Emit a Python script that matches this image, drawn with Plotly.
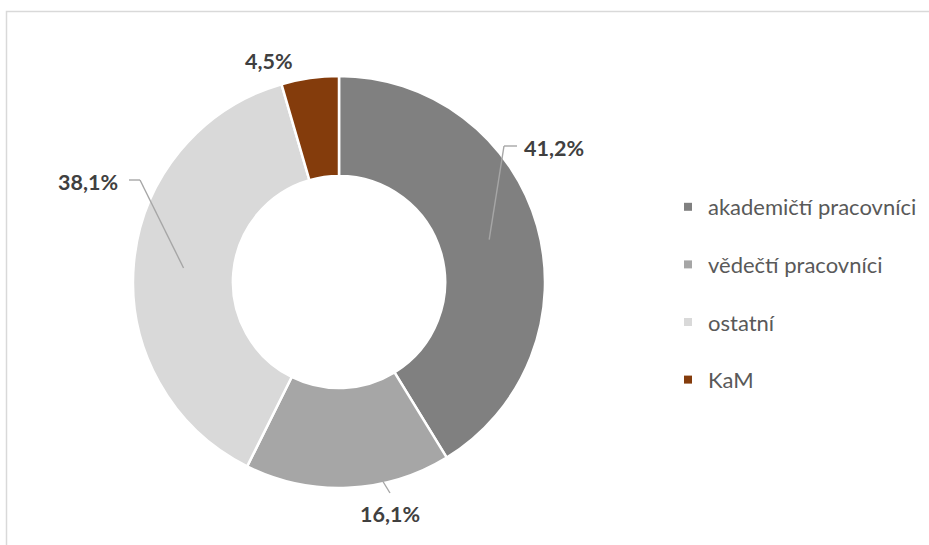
import math
import plotly.graph_objects as go

# ---- data ----
categories = ["akademičtí pracovníci", "vědečtí pracovníci", "ostatní", "KaM"]
values = [41.2, 16.1, 38.1, 4.5]
value_labels = ["41,2%", "16,1%", "38,1%", "4,5%"]
colors = ["#808080", "#A6A6A6", "#D9D9D9", "#843C0C"]

# ---- layout constants (pixels) ----
W, H = 929, 545
CX, CY, R_OUT = 339, 282, 206
HOLE = 0.515
R_MID = R_OUT * (1 + HOLE) / 2

# label centres and leader-line elbows/ends (pixel positions, style only)
label_pos = [(554, 148), (390, 514), (88, 182), (269, 61)]
leader_style = [
    {"from": "mid", "pts": [(504, 146), (517, 146)]},
    {"from": "toward_label", "pts": [(390, 493)]},
    {"from": "mid", "pts": [(140, 180), (129, 180)]},
    None,
]


def px(x, y):
    return x / W, 1 - y / H


fig = go.Figure()
fig.add_trace(go.Pie(
    labels=categories, values=values, sort=False, direction="clockwise",
    rotation=0, hole=HOLE, textinfo="none", hoverinfo="label+percent",
    marker=dict(colors=colors, line=dict(color="white", width=2.5)),
    domain=dict(x=[(CX - R_OUT) / W, (CX + R_OUT) / W],
                y=[1 - (CY + R_OUT) / H, 1 - (CY - R_OUT) / H]),
    showlegend=False,
))

# legend via dummy traces (one group each, for spacing)
for cat, col in zip(categories, colors):
    fig.add_trace(go.Scatter(
        x=[None], y=[None], mode="markers", name=cat, legendgroup=cat,
        marker=dict(symbol="square", size=8, color=col),
    ))

total = sum(values)
shapes = []
annotations = []
cum = 0.0
for i, v in enumerate(values):
    mid_frac = (cum + v / 2) / total
    cum += v
    ang = mid_frac * 2 * math.pi
    lx, ly = label_pos[i]
    annotations.append(dict(
        x=px(lx, ly)[0], y=px(lx, ly)[1], xref="paper", yref="paper",
        text="<b>%s</b>" % value_labels[i], showarrow=False,
        font=dict(family="Lato, Carlito, sans-serif", size=21.5, color="#404040"),
        xanchor="center", yanchor="middle",
    ))
    st = leader_style[i]
    if st is None:
        continue
    if st["from"] == "mid":
        sx = CX + R_MID * math.sin(ang)
        sy = CY - R_MID * math.cos(ang)
    else:
        la = math.atan2(lx - CX, -(ly - CY))
        sx = CX + (R_OUT - 2) * math.sin(la)
        sy = CY - (R_OUT - 2) * math.cos(la)
    pts = [(sx, sy)] + st["pts"]
    for (x0, y0), (x1, y1) in zip(pts[:-1], pts[1:]):
        a = px(x0, y0)
        b = px(x1, y1)
        shapes.append(dict(type="line", xref="paper", yref="paper",
                           x0=a[0], y0=a[1], x1=b[0], y1=b[1],
                           line=dict(color="#A6A6A6", width=1.4)))

# chart border (only left/top edges visible in crop)
shapes.append(dict(type="rect", xref="paper", yref="paper",
                   x0=6.5 / W, y0=-0.05, x1=1.05, y1=1 - 11.5 / H,
                   line=dict(color="#D9D9D9", width=1.5), layer="below"))

fig.update_layout(
    width=W, height=H,
    margin=dict(l=0, r=0, t=0, b=0),
    paper_bgcolor="white", plot_bgcolor="white",
    xaxis=dict(visible=False), yaxis=dict(visible=False),
    shapes=shapes, annotations=annotations,
    legend=dict(
        x=668 / W, xanchor="left", y=1 - 293.5 / H, yanchor="middle",
        traceorder="grouped", tracegroupgap=26,
        font=dict(family="Lato, Carlito, sans-serif", size=22, color="#595959"),
        bgcolor="rgba(0,0,0,0)", itemclick=False, itemdoubleclick=False,
    ),
    showlegend=True,
)

fig.write_html(
    "out.html",
    config={"displayModeBar": False},
    post_script="document.body.style.margin='0';document.body.style.overflow='hidden';",
)
